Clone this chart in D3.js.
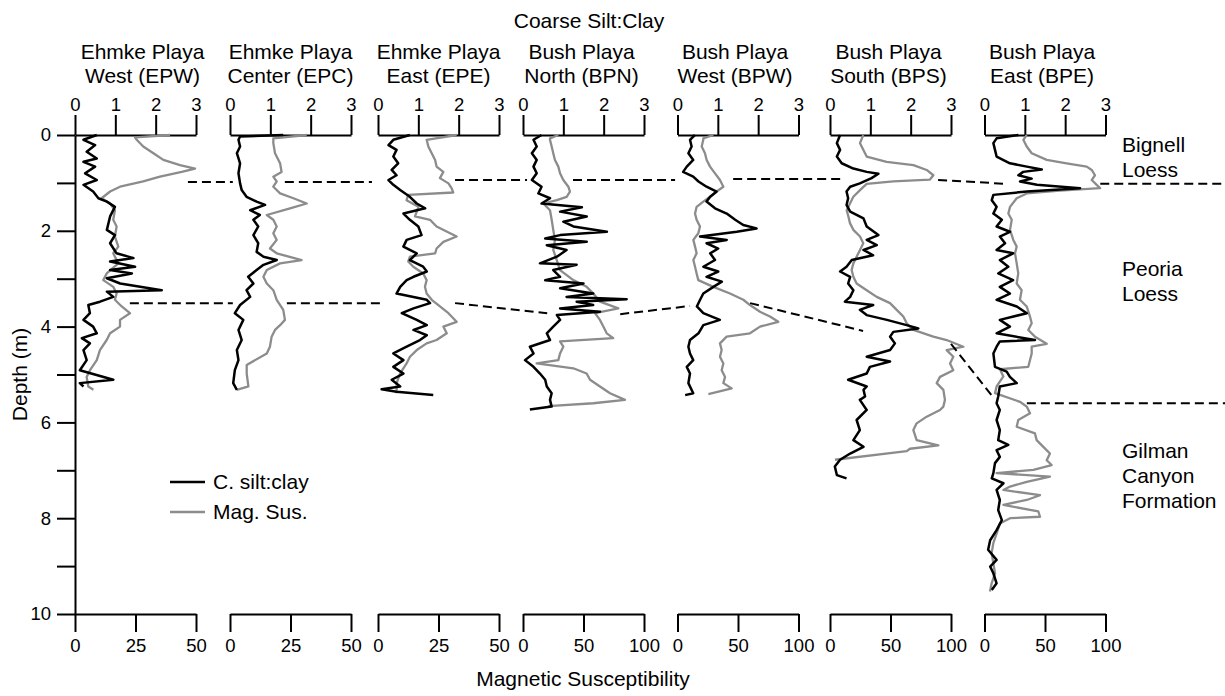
<!DOCTYPE html>
<html><head><meta charset="utf-8">
<script src="https://cdn.jsdelivr.net/npm/d3@7"></script>
<style>
body{margin:0;background:#fff;}
svg{display:block;font-family:"Liberation Sans",Arial,sans-serif;}
</style></head><body>
<svg id="chart" width="1225" height="696"></svg>
<script>
// ---------------- DATA ----------------
const siteNames = ["Ehmke Playa","Ehmke Playa","Ehmke Playa","Bush Playa","Bush Playa","Bush Playa","Bush Playa"];
const siteCodes = ["West (EPW)","Center (EPC)","East (EPE)","North (BPN)","West (BPW)","South (BPS)","East (BPE)"];
const ratioTicks = [0,1,2,3];
const magMax = [50,50,50,100,100,100,100];
const magTicks = [[0,25,50],[0,25,50],[0,25,50],[0,50,100],[0,50,100],[0,50,100],[0,50,100]];
const depthTicks = [0,1,2,3,4,5,6,7,8,9,10];
const unitLabels = [["Bignell","Loess"],["Peoria","Loess"],["Gilman","Canyon","Formation"]];
const unitDepths = [0.1, 2.7, 6.5];

// [depth (m), coarse silt:clay ratio]
const epwSilt = [[0,0.54],[0.10,0.21],[0.21,0.50],[0.35,0.29],[0.49,0.54],[0.56,0.21],[0.66,0.50],[0.80,0.25],[0.94,0.54],[1.04,0.21],[1.18,0.45],[1.32,0.58],[1.39,0.79],[1.50,0.99],[1.70,0.87],[1.98,0.79],[2.09,0.99],[2.26,0.87],[2.47,1.03],[2.57,1.45],[2.64,0.87],[2.75,1.49],[2.82,0.87],[2.89,1.41],[2.99,0.79],[3.10,1.12],[3.24,2.15],[3.27,0.79],[3.38,0.95],[3.48,0.62],[3.55,0.33],[3.72,0.37],[3.86,0.21],[4.00,0.45],[4.14,0.54],[4.24,0.17],[4.35,0.37],[4.49,0.21],[4.70,0.29],[4.91,0.12],[5.11,0.95],[5.18,0.12],[5.25,0.21]];
// [depth (m), magnetic susceptibility]
const epwMag = [[0,39.3],[0.05,24.8],[0.10,25.5],[0.24,28.2],[0.38,32.4],[0.52,36.5],[0.63,43.4],[0.70,49.6],[0.77,44.1],[0.87,35.1],[0.97,28.2],[1.08,18.6],[1.18,14.5],[1.32,11.0],[1.43,14.5],[1.57,16.5],[1.77,15.8],[1.91,17.2],[2.12,16.5],[2.33,17.9],[2.47,15.8],[2.68,17.9],[2.89,13.1],[3.03,11.7],[3.17,15.8],[3.31,17.2],[3.44,16.5],[3.58,19.3],[3.72,22.7],[3.86,18.6],[4.00,18.6],[4.14,14.5],[4.28,13.1],[4.49,10.3],[4.70,9.0],[4.91,6.2],[5.05,4.8],[5.25,5.5],[5.32,7.6]];

const epcSilt = [[0,1.32],[0.03,0.25],[0.10,0.21],[0.24,0.25],[0.38,0.17],[0.59,0.25],[0.80,0.21],[1.01,0.25],[1.15,0.29],[1.29,0.41],[1.39,0.66],[1.46,0.87],[1.57,0.50],[1.67,0.74],[1.77,0.58],[1.91,0.70],[2.09,0.58],[2.26,0.70],[2.44,0.66],[2.54,0.83],[2.61,1.16],[2.71,0.83],[2.82,0.66],[2.96,0.45],[3.10,0.58],[3.24,0.41],[3.38,0.50],[3.55,0.25],[3.72,0.12],[3.86,0.33],[4.07,0.21],[4.28,0.29],[4.49,0.17],[4.70,0.21],[4.91,0.12],[5.18,0.08],[5.32,0.17]];
const epcMag = [[0,31.7],[0.07,17.9],[0.17,17.9],[0.38,18.6],[0.59,20.7],[0.77,21.3],[0.87,17.9],[0.97,19.3],[1.08,17.9],[1.22,20.7],[1.32,26.2],[1.43,31.7],[1.53,24.8],[1.67,15.2],[1.77,17.9],[1.91,19.3],[2.05,17.9],[2.19,19.3],[2.37,16.5],[2.47,19.3],[2.61,29.6],[2.68,20.7],[2.82,15.2],[2.96,13.8],[3.10,15.2],[3.24,17.9],[3.44,19.3],[3.65,22.0],[3.86,22.7],[3.97,20.7],[4.07,18.6],[4.21,17.2],[4.42,16.5],[4.56,15.2],[4.80,6.9],[4.98,6.9],[5.25,7.6],[5.32,2.8]];

const epeSilt = [[0,0.79],[0.10,0.38],[0.21,0.26],[0.31,0.46],[0.45,0.38],[0.59,0.50],[0.73,0.34],[0.84,0.46],[0.94,0.26],[1.04,0.38],[1.15,0.55],[1.29,0.79],[1.43,0.96],[1.53,1.17],[1.64,0.63],[1.77,0.79],[1.91,1.00],[2.09,1.08],[2.19,0.71],[2.33,0.63],[2.47,0.96],[2.61,0.79],[2.75,1.12],[2.85,1.21],[2.96,0.88],[3.03,0.71],[3.17,0.55],[3.31,0.46],[3.44,1.21],[3.51,1.29],[3.62,0.88],[3.72,0.59],[3.86,0.96],[3.97,1.21],[4.07,0.88],[4.18,1.21],[4.28,1.04],[4.42,0.71],[4.56,0.38],[4.70,0.63],[4.84,0.38],[4.98,0.63],[5.11,0.34],[5.25,0.55],[5.31,0.09],[5.36,0.46],[5.43,1.37]];
const epeMag = [[0,32.5],[0.10,20.1],[0.24,20.8],[0.38,22.2],[0.52,23.6],[0.66,24.2],[0.77,27.0],[0.90,25.6],[1.01,29.1],[1.11,30.4],[1.20,31.1],[1.25,12.5],[1.36,11.8],[1.50,16.7],[1.70,15.3],[1.77,21.5],[1.91,24.2],[2.12,32.5],[2.23,27.0],[2.37,24.2],[2.47,23.6],[2.54,13.2],[2.64,12.5],[2.75,14.6],[2.89,18.7],[3.03,20.1],[3.17,19.4],[3.31,20.1],[3.44,22.2],[3.58,25.6],[3.72,29.1],[3.90,32.5],[4.00,27.0],[4.14,28.4],[4.28,24.2],[4.35,20.1],[4.49,16.0],[4.63,13.2],[4.77,11.8],[4.98,9.1],[5.18,7.7],[5.39,7.7]];

const bpnSilt = [[0,0.46],[0.10,0.26],[0.24,0.34],[0.38,0.22],[0.52,0.34],[0.66,0.26],[0.80,0.34],[0.94,0.22],[1.08,0.46],[1.22,0.38],[1.32,0.67],[1.43,0.46],[1.51,1.46],[1.60,0.92],[1.70,1.58],[1.81,1.00],[1.91,1.25],[2.02,2.08],[2.09,0.92],[2.16,0.55],[2.23,1.58],[2.30,0.59],[2.40,1.08],[2.54,0.84],[2.68,0.42],[2.71,1.33],[2.82,0.75],[2.96,0.92],[3.03,0.55],[3.10,1.50],[3.20,0.92],[3.31,1.74],[3.38,1.08],[3.43,2.57],[3.48,1.33],[3.55,1.74],[3.62,0.92],[3.69,1.91],[3.76,0.84],[3.86,0.92],[4.00,0.75],[4.14,0.59],[4.28,0.67],[4.42,0.17],[4.56,0.26],[4.70,0.05],[4.84,0.26],[4.98,0.42],[5.11,0.55],[5.25,0.59],[5.39,0.71],[5.53,0.67],[5.67,0.71],[5.73,0.17]];
const bpnMag = [[0,29.2],[0.07,22.3],[0.10,22.3],[0.24,23.7],[0.38,25.0],[0.52,26.4],[0.66,29.2],[0.80,30.6],[0.94,33.3],[1.08,37.5],[1.18,38.8],[1.29,36.1],[1.36,27.9],[1.43,16.8],[1.57,22.3],[1.77,23.7],[1.98,25.0],[2.19,26.4],[2.40,25.0],[2.61,27.9],[2.82,30.6],[3.03,41.6],[3.17,52.6],[3.31,58.1],[3.48,63.6],[3.62,78.8],[3.72,59.5],[3.86,63.6],[4.00,66.4],[4.14,69.2],[4.24,74.6],[4.31,30.6],[4.42,33.3],[4.56,30.6],[4.70,29.2],[4.77,11.3],[4.87,41.6],[4.98,52.6],[5.11,55.4],[5.25,63.6],[5.39,71.9],[5.53,84.3],[5.60,58.1],[5.66,20.9]];

const bpwSilt = [[0,0.43],[0.10,0.31],[0.24,0.35],[0.38,0.27],[0.52,0.39],[0.66,0.23],[0.77,0.14],[0.87,0.39],[0.97,0.52],[1.08,0.72],[1.18,0.97],[1.29,0.81],[1.39,0.72],[1.53,0.93],[1.64,1.22],[1.77,1.43],[1.88,1.63],[1.95,1.96],[2.02,1.47],[2.12,0.56],[2.19,1.22],[2.26,0.72],[2.37,1.01],[2.47,0.81],[2.61,0.93],[2.75,0.64],[2.85,1.01],[2.96,0.72],[3.06,1.10],[3.17,0.89],[3.31,0.64],[3.44,0.56],[3.58,0.48],[3.72,0.64],[3.86,1.05],[3.97,0.64],[4.14,0.52],[4.28,0.31],[4.42,0.27],[4.56,0.31],[4.70,0.39],[4.84,0.23],[4.98,0.31],[5.18,0.27],[5.39,0.39],[5.43,0.19]];
const bpwMag = [[0,29.6],[0.07,21.3],[0.10,21.3],[0.24,20.0],[0.38,22.7],[0.52,24.1],[0.66,26.9],[0.80,31.0],[0.94,35.1],[1.08,37.9],[1.18,32.4],[1.29,26.9],[1.39,21.3],[1.50,15.8],[1.64,14.5],[1.77,15.8],[1.91,18.6],[2.05,17.2],[2.19,13.1],[2.33,14.5],[2.47,15.8],[2.61,13.1],[2.75,14.5],[2.89,15.8],[3.03,17.2],[3.17,29.6],[3.31,43.4],[3.44,54.4],[3.55,59.9],[3.69,68.2],[3.79,76.4],[3.90,83.3],[4.00,68.2],[4.14,59.9],[4.21,40.6],[4.35,35.1],[4.49,36.5],[4.63,35.1],[4.77,37.9],[4.91,36.5],[5.05,39.3],[5.18,37.9],[5.29,44.8],[5.41,25.5]];

const bpsSilt = [[0,0.25],[0.17,0.17],[0.31,0.25],[0.45,0.17],[0.59,0.29],[0.70,0.58],[0.77,0.91],[0.81,1.20],[0.90,1.03],[1.01,0.74],[1.08,0.50],[1.18,0.41],[1.32,0.45],[1.46,0.41],[1.60,0.50],[1.74,0.83],[1.91,0.91],[2.09,1.20],[2.19,0.91],[2.30,1.16],[2.40,0.83],[2.51,1.07],[2.61,0.54],[2.75,0.41],[2.85,0.25],[2.96,0.50],[3.10,0.45],[3.24,0.58],[3.38,0.50],[3.48,0.37],[3.55,1.07],[3.65,0.74],[3.76,0.91],[3.86,1.41],[3.97,1.90],[4.04,2.19],[4.11,1.57],[4.21,1.49],[4.35,1.61],[4.49,1.49],[4.63,0.91],[4.73,1.49],[4.84,0.99],[4.98,0.91],[5.11,0.45],[5.25,0.91],[5.32,0.83],[5.46,0.87],[5.53,0.74],[5.74,0.91],[5.95,0.66],[6.16,0.74],[6.37,0.58],[6.51,0.83],[6.65,0.50],[6.78,0.25],[6.92,0.12],[7.10,0.17],[7.17,0.41]];
const bpsMag = [[0,27.5],[0.17,24.8],[0.31,27.5],[0.45,30.3],[0.56,46.8],[0.63,68.9],[0.73,79.9],[0.84,85.4],[0.93,82.6],[0.97,52.3],[1.02,30.3],[1.15,24.8],[1.29,19.3],[1.43,16.5],[1.57,13.8],[1.70,15.2],[1.84,16.5],[1.98,19.3],[2.12,24.8],[2.26,27.5],[2.40,24.8],[2.54,22.0],[2.68,19.3],[2.82,17.9],[2.96,19.3],[3.10,22.0],[3.24,30.3],[3.38,38.6],[3.51,49.6],[3.65,55.1],[3.79,60.6],[3.93,63.4],[4.07,68.9],[4.21,85.4],[4.28,96.4],[4.42,110.2],[4.49,96.4],[4.63,101.9],[4.77,99.2],[4.91,101.9],[5.05,90.9],[5.18,88.2],[5.32,93.7],[5.53,95.0],[5.67,93.7],[5.74,90.9],[5.88,79.9],[6.02,71.6],[6.16,68.9],[6.37,71.6],[6.48,89.5],[6.55,66.1],[6.60,63.4],[6.78,4.1]];

const bpeSilt = [[0,0.84],[0.07,0.30],[0.17,0.22],[0.31,0.26],[0.45,0.30],[0.59,0.63],[0.66,1.05],[0.72,1.42],[0.77,0.96],[0.84,0.84],[0.91,1.17],[0.97,0.88],[1.04,1.30],[1.11,2.37],[1.18,1.05],[1.25,0.22],[1.36,0.18],[1.50,0.30],[1.64,0.22],[1.77,0.43],[1.91,0.30],[2.02,0.63],[2.12,0.38],[2.26,0.51],[2.40,0.30],[2.47,0.71],[2.61,0.38],[2.75,0.59],[2.89,0.34],[3.03,0.71],[3.17,0.38],[3.31,0.63],[3.44,0.30],[3.58,0.80],[3.72,1.05],[3.86,0.38],[4.00,0.63],[4.14,0.30],[4.28,1.25],[4.31,0.38],[4.42,0.30],[4.56,0.22],[4.84,0.26],[4.94,0.55],[5.05,0.63],[5.18,0.80],[5.25,0.38],[5.46,0.34],[5.60,0.30],[5.74,0.38],[5.95,0.30],[6.16,0.38],[6.37,0.34],[6.47,0.59],[6.58,0.30],[6.72,0.38],[6.85,0.26],[7.06,0.22],[7.17,0.18],[7.27,0.47],[7.41,0.30],[7.62,0.38],[7.83,0.34],[8.04,0.43],[8.25,0.30],[8.46,0.14],[8.66,0.09],[8.87,0.30],[9.01,0.14],[9.15,0.22],[9.36,0.30],[9.50,0.18]];
const bpeMag = [[0,34.9],[0.10,32.1],[0.24,34.9],[0.38,39.0],[0.52,51.4],[0.59,67.9],[0.66,84.5],[0.73,88.6],[0.84,91.3],[0.94,88.6],[1.04,92.7],[1.11,95.5],[1.16,62.4],[1.22,34.9],[1.32,26.6],[1.50,21.1],[1.64,19.7],[1.77,22.5],[1.98,21.1],[2.19,23.8],[2.33,26.6],[2.47,25.2],[2.68,26.6],[2.89,27.9],[3.10,26.6],[3.24,30.7],[3.44,29.3],[3.58,34.9],[3.79,37.6],[3.93,39.0],[4.07,36.2],[4.21,41.7],[4.36,51.4],[4.42,39.0],[4.56,39.0],[4.84,36.2],[4.89,12.8],[5.04,15.6],[5.25,10.0],[5.39,8.7],[5.57,29.3],[5.67,34.9],[5.81,37.6],[5.95,27.9],[6.09,26.6],[6.23,41.7],[6.37,43.1],[6.51,48.6],[6.65,54.1],[6.79,51.4],[6.89,55.5],[6.99,40.4],[7.06,10.0],[7.13,54.1],[7.24,34.9],[7.34,21.1],[7.41,15.6],[7.52,45.9],[7.62,34.9],[7.72,15.6],[7.86,44.5],[7.97,45.9],[8.00,21.1],[8.11,12.8],[8.32,10.0],[8.52,7.3],[8.73,5.9],[8.94,7.3],[9.15,8.7],[9.36,5.9],[9.53,4.5]];

const siltSeries = [epwSilt, epcSilt, epeSilt, bpnSilt, bpwSilt, bpsSilt, bpeSilt];
const magSeries = [epwMag, epcMag, epeMag, bpnMag, bpwMag, bpsMag, bpeMag];

// correlation (dashed) lines: [panel, ratio-position, depth] -> [panel, ratio-position, depth]
const upperBoundary = [
  [[0,2.80,0.98],[1,0.07,0.98]], [[1,1.36,0.98],[2,-0.15,0.98]], [[2,1.91,0.94],[3,0.10,0.94]],
  [[3,1.24,0.94],[4,-0.06,0.94]], [[4,1.38,0.92],[5,0.30,0.92]], [[5,2.68,0.94],[6,0.56,1.02]],
  [[6,2.87,1.02],[6,6.00,1.02]]
];
const lowerBoundary = [
  [[0,1.36,3.51],[1,0.07,3.51]], [[1,1.41,3.51],[2,0.05,3.51]], [[2,1.91,3.51],[3,0.60,3.72]],
  [[3,2.41,3.74],[4,0.31,3.57]], [[4,1.80,3.51],[5,0.82,4.09]], [[5,3.00,4.36],[6,0.21,5.47]],
  [[6,1.05,5.60],[6,6.00,5.60]]
];

// ---------------- LAYOUT ----------------
const svg = d3.select("#chart");
const panelLeft = [75, 230, 378, 523, 677.5, 830, 984.5];
const titleShift = [7, 0, 0, -2, -3, -2, -3];
const panelWidth = 121;
const yTop = 135, yBottom = 614;
const FS_TICK = 18.5, FS_TEXT = 21;
const y = d3.scaleLinear().domain([0, 10]).range([yTop, yBottom]);

const xRatio = panelLeft.map(L => d3.scaleLinear().domain([0, 3]).range([L, L + panelWidth]));
const xMag = panelLeft.map((L, i) => d3.scaleLinear().domain([0, magMax[i]]).range([L, L + panelWidth]));

function styleAxis(g, fs) {
  g.select(".domain").attr("stroke", "#000").attr("stroke-width", 2);
  g.selectAll(".tick line").attr("stroke", "#000").attr("stroke-width", 2);
  g.selectAll(".tick text").attr("fill", "#000").attr("font-size", fs)
    .attr("font-family", '"Liberation Sans", Arial, sans-serif');
}

// depth axis
const gy = svg.append("g").attr("transform", `translate(${panelLeft[0]},0)`)
  .call(d3.axisLeft(y).tickValues(depthTicks).tickSize(18).tickPadding(6)
    .tickSizeOuter(0).tickFormat(d => d % 2 === 0 ? d : ""));
styleAxis(gy, FS_TICK);

svg.append("text").attr("transform", `translate(27,${(yTop + yBottom) / 2}) rotate(-90)`)
  .attr("text-anchor", "middle").attr("font-size", FS_TEXT).text("Depth (m)");

// panels
const line = (xs) => d3.line().x(d => xs(d[1])).y(d => y(d[0]));

panelLeft.forEach((L, i) => {
  const gt = svg.append("g").attr("transform", `translate(0,${yTop})`)
    .call(d3.axisTop(xRatio[i]).tickValues(ratioTicks).tickFormat(d3.format("d"))
      .tickSize(20).tickPadding(4).tickSizeOuter(0));
  styleAxis(gt, FS_TICK);
  const gb = svg.append("g").attr("transform", `translate(0,${yBottom})`)
    .call(d3.axisBottom(xMag[i]).tickValues(magTicks[i]).tickFormat(d3.format("d"))
      .tickSize(18).tickPadding(7).tickSizeOuter(0));
  styleAxis(gb, FS_TICK);

  const cx = L + panelWidth / 2 + titleShift[i];
  svg.append("text").attr("x", cx).attr("y", 59).attr("text-anchor", "middle")
    .attr("font-size", FS_TEXT).text(siteNames[i]);
  svg.append("text").attr("x", cx).attr("y", 83).attr("text-anchor", "middle")
    .attr("font-size", FS_TEXT).text(siteCodes[i]);

  svg.append("path").datum(magSeries[i]).attr("fill", "none")
    .attr("stroke", "#8c8c8c").attr("stroke-width", 2.3).attr("stroke-linejoin", "round")
    .attr("d", line(xMag[i]));
  svg.append("path").datum(siltSeries[i]).attr("fill", "none")
    .attr("stroke", "#000").attr("stroke-width", 2.5).attr("stroke-linejoin", "round")
    .attr("d", line(xRatio[i]));
});

// correlation lines
[upperBoundary, lowerBoundary].forEach(segs => {
  segs.forEach(s => {
    svg.append("line")
      .attr("x1", xRatio[s[0][0]](s[0][1])).attr("y1", y(s[0][2]))
      .attr("x2", xRatio[s[1][0]](s[1][1])).attr("y2", y(s[1][2]))
      .attr("stroke", "#000").attr("stroke-width", 2).attr("stroke-dasharray", "9,5");
  });
});

// axis titles
svg.append("text").attr("x", 589).attr("y", 28).attr("text-anchor", "middle")
  .attr("font-size", FS_TEXT).text("Coarse Silt:Clay");
svg.append("text").attr("x", 583).attr("y", 686).attr("text-anchor", "middle")
  .attr("font-size", FS_TEXT).text("Magnetic Susceptibility");

// unit labels
unitLabels.forEach((lines, k) => {
  lines.forEach((t, j) => {
    svg.append("text").attr("x", 1122).attr("y", y(unitDepths[k]) + 12 + j * 25)
      .attr("font-size", FS_TEXT).text(t);
  });
});

// legend
const legendItems = [["C. silt:clay", "#000"], ["Mag. Sus.", "#8c8c8c"]];
legendItems.forEach((it, k) => {
  const ly = 482 + k * 30;
  svg.append("line").attr("x1", 170).attr("x2", 205).attr("y1", ly).attr("y2", ly)
    .attr("stroke", it[1]).attr("stroke-width", 2.3);
  svg.append("text").attr("x", 213).attr("y", ly).attr("dy", "0.35em")
    .attr("font-size", FS_TEXT).text(it[0]);
});
</script>
</body></html>
